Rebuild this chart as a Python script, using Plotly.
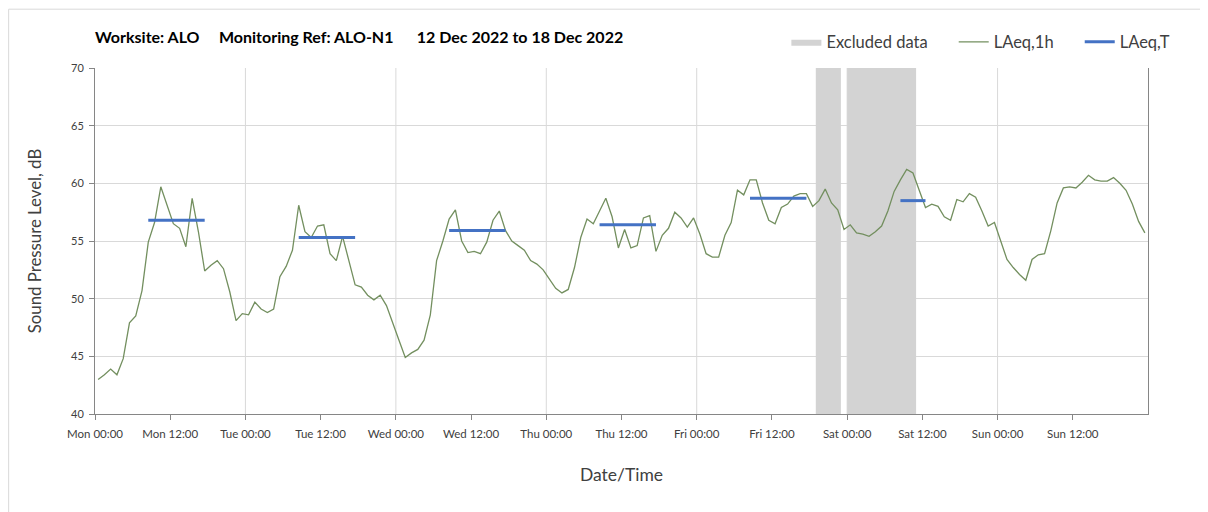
import pandas as pd
import plotly.graph_objects as go

# hourly LAeq,1h values, Mon 12 Dec 2022 00:00 onwards (one per hour)
laeq_1h = [
    43.0, 43.4, 43.9, 43.4, 44.8, 47.9, 48.5, 50.7, 54.9, 56.6, 59.7, 58.1,
    56.5, 56.1, 54.5, 58.7, 55.8, 52.4, 52.9, 53.3, 52.6, 50.6, 48.1, 48.7,
    48.6, 49.7, 49.1, 48.8, 49.1, 51.9, 52.8, 54.2, 58.1, 55.8, 55.3, 56.3,
    56.4, 53.9, 53.3, 55.4, 53.3, 51.2, 51.0, 50.3, 49.9, 50.3, 49.4, 47.8,
    46.4, 44.9, 45.3, 45.6, 46.4, 48.6, 53.3, 55.0, 56.9, 57.7, 55.0, 54.0,
    54.1, 53.9, 54.9, 56.8, 57.6, 55.9, 55.0, 54.6, 54.2, 53.3, 53.0, 52.5,
    51.7, 50.9, 50.5, 50.8, 52.7, 55.3, 56.9, 56.5, 57.6, 58.7, 57.1, 54.4,
    56.0, 54.4, 54.6, 57.0, 57.2, 54.1, 55.5, 56.1, 57.5, 57.0, 56.2, 57.0,
    55.6, 53.9, 53.6, 53.6, 55.5, 56.6, 59.4, 59.0, 60.3, 60.3, 58.3, 56.8,
    56.5, 57.9, 58.2, 58.9, 59.1, 59.1, 58.0, 58.5, 59.5, 58.3, 57.7, 56.0,
    56.4, 55.7, 55.6, 55.4, 55.8, 56.3, 57.6, 59.3, 60.3, 61.2, 60.9, 59.4,
    57.9, 58.2, 58.0, 57.1, 56.8, 58.6, 58.4, 59.1, 58.8, 57.6, 56.3, 56.6,
    55.0, 53.4, 52.7, 52.1, 51.6, 53.4, 53.8, 53.9, 55.9, 58.3, 59.6, 59.7,
    59.6, 60.1, 60.7, 60.3, 60.2, 60.2, 60.5, 60.0, 59.4, 58.2, 56.7, 55.7,
]
first_time = "2022-12-12 00:30"

# daytime LAeq,T periods
laeq_t_start = ["2022-12-12 08:30", "2022-12-13 08:30", "2022-12-14 08:30",
                "2022-12-15 08:30", "2022-12-16 08:30", "2022-12-17 08:30"]
laeq_t_end = ["2022-12-12 17:30", "2022-12-13 17:30", "2022-12-14 17:30",
              "2022-12-15 17:30", "2022-12-16 17:30", "2022-12-17 12:30"]
laeq_t = [56.8, 55.3, 55.9, 56.4, 58.7, 58.5]

# excluded periods
excl_start = ["2022-12-16 19:00", "2022-12-17 00:00"]
excl_end = ["2022-12-16 23:00", "2022-12-17 11:00"]

week_start = "2022-12-12 00:00"
week_end = "2022-12-19 00:00"
y_range = [40, 70]

times = pd.Timestamp(first_time) + pd.to_timedelta(range(len(laeq_1h)), unit="h")
tick_vals = pd.date_range(week_start, periods=14, freq="12h")

# excluded periods as filled boxes
ex, ey = [], []
for s, e in zip(excl_start, excl_end):
    ex += [s, e, e, s, s, None]
    ey += [y_range[0], y_range[0], y_range[1], y_range[1], y_range[0], None]

tx, ty = [], []
for s, e, v in zip(laeq_t_start, laeq_t_end, laeq_t):
    tx += [s, e, None]
    ty += [v, v, None]

sp = "&nbsp;" * 5

fig = go.Figure()
fig.add_scatter(x=ex, y=ey, mode="lines", fill="toself", fillcolor="#d3d3d3",
                line=dict(width=0, color="#d3d3d3"), name="Excluded data" + sp,
                hoverinfo="skip")
fig.add_scatter(x=times, y=laeq_1h, mode="lines", name="LAeq,1h" + sp,
                line=dict(color="#738f5f", width=1.3))
fig.add_scatter(x=tx, y=ty, mode="lines", name="LAeq,T",
                line=dict(color="#4472c4", width=3))

# vertical grid at each midnight
for d in pd.date_range("2022-12-13", periods=6, freq="D"):
    fig.add_shape(type="line", xref="x", yref="paper", x0=d, x1=d, y0=0, y1=1,
                  line=dict(color="#d9d9d9", width=1), layer="below")

# outer chart border
fig.add_shape(type="rect", xref="paper", yref="paper", x0=-0.082, x1=1.062,
              y0=-0.31, y1=1.17, line=dict(color="#d9d9d9", width=1))

fig.update_layout(
    width=1200, height=504,
    margin=dict(l=87, r=60, t=60, b=98, autoexpand=False),
    plot_bgcolor="white", paper_bgcolor="white",
    font=dict(family="Lato", color="#404040"),
    title=dict(
        text="<b>Worksite: ALO&nbsp;&nbsp;&nbsp;&nbsp;&nbsp;Monitoring Ref: ALO-N1"
             "&nbsp;&nbsp;&nbsp;&nbsp;&nbsp;&nbsp;12 Dec 2022 to 18 Dec 2022</b>",
        x=0, xref="paper", xanchor="left", y=1 - 29 / 504, yref="container",
        yanchor="middle", font=dict(size=16, color="black"),
    ),
    legend=dict(orientation="h", x=1.026, xanchor="right", y=1.075, yanchor="middle",
                font=dict(size=16.5, color="#404040"), bgcolor="rgba(0,0,0,0)"),
    showlegend=True,
)
fig.update_xaxes(
    type="date", range=[week_start, week_end], tickvals=tick_vals,
    tickformat="%a %H:%M", ticks="outside", ticklen=5, tickcolor="#868686",
    showgrid=False, showline=True, linecolor="#868686", zeroline=False,
    automargin=False, tickfont=dict(size=11.5, color="#404040"),
    ticklabelstandoff=4,
    title=dict(text="Date/Time", font=dict(size=17.5, color="#404040"), standoff=29),
)
fig.update_yaxes(
    range=y_range, dtick=5, ticks="outside", ticklen=5, tickcolor="#868686",
    showgrid=True, gridcolor="#d9d9d9", showline=True, linecolor="#868686",
    mirror=True, zeroline=False, automargin=False,
    tickfont=dict(size=11, color="#404040"), ticklabelstandoff=3,
    title=dict(text="Sound Pressure Level, dB", font=dict(size=16.8, color="#404040"),
               standoff=25),
)

fig.write_html("out.html")
